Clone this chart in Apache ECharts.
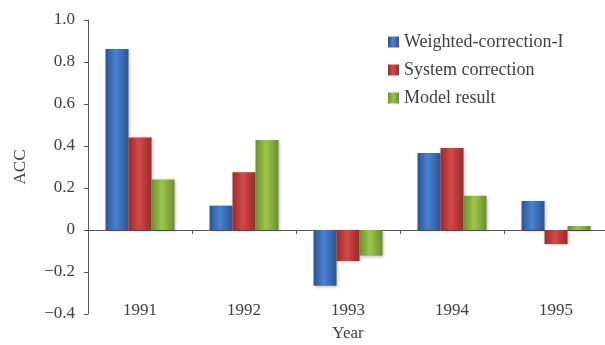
<!DOCTYPE html>
<html>
<head>
<meta charset="utf-8">
<script src="https://cdn.jsdelivr.net/npm/echarts@6/dist/echarts.min.js"></script>
<style>
  html, body { margin: 0; padding: 0; background: #fff; }
  #chart { width: 605px; height: 345px; }
</style>
</head>
<body>
<div id="chart"></div>
<script>
// data
const years = ['1991', '1992', '1993', '1994', '1995'];
const weightedCorrection = [0.862, 0.116, -0.265, 0.367, 0.138];
const systemCorrection = [0.441, 0.275, -0.148, 0.39, -0.067];
const modelResult = [0.241, 0.429, -0.122, 0.163, 0.019];

const font = 'Liberation Serif';
const textColor = '#404040';

// fake 3d look: darker edges, lighter middle
const barFill = (edge, mid) => new echarts.graphic.LinearGradient(0, 0, 1, 0, [
    { offset: 0, color: edge },
    { offset: 0.45, color: mid },
    { offset: 1, color: edge }
]);

const makeBar = (name, data, edge, mid) => ({
    name: name,
    type: 'bar',
    data: data,
    barWidth: 23,
    barGap: '0%',
    itemStyle: {
        color: barFill(edge, mid),
        shadowColor: 'rgba(0,0,0,0.25)',
        shadowBlur: 3,
        shadowOffsetX: 1,
        shadowOffsetY: 1
    }
});

const chart = echarts.init(document.getElementById('chart'));

chart.setOption({
    animation: false,
    textStyle: { fontFamily: font, color: textColor },
    grid: { left: 88, top: 20, width: 520, bottom: 31, outerBoundsMode: 'none' },
    legend: {
        orient: 'vertical',
        left: 383,
        top: 28,
        itemWidth: 11,
        itemHeight: 11,
        itemGap: 10,
        icon: 'rect',
        textStyle: { fontFamily: font, fontSize: 18, color: textColor },
        data: ['Weighted-correction-I', 'System correction', 'Model result']
    },
    xAxis: [
        {
            type: 'category',
            data: years,
            axisLine: { onZero: true, lineStyle: { color: '#555', width: 1 } },
            axisTick: { show: true, length: 4, lineStyle: { color: '#555' } },
            axisLabel: { show: false }
        },
        {
            type: 'category',
            data: years,
            position: 'bottom',
            offset: -14,
            axisLine: { show: false },
            axisTick: { show: false },
            axisLabel: { margin: 2, fontFamily: font, fontSize: 17, color: textColor },
            name: 'Year',
            nameLocation: 'middle',
            nameGap: 25,
            nameTextStyle: { fontFamily: font, fontSize: 17, color: textColor }
        }
    ],
    yAxis: {
        type: 'value',
        min: -0.4,
        max: 1.0,
        interval: 0.2,
        name: 'ACC',
        nameLocation: 'middle',
        nameGap: 59,
        nameTextStyle: { fontFamily: font, fontSize: 17, color: textColor },
        axisLine: { show: true, lineStyle: { color: '#555', width: 1 } },
        axisTick: { show: true, length: 4, lineStyle: { color: '#555' } },
        splitLine: { show: false },
        axisLabel: {
            margin: 13,
            fontFamily: font,
            fontSize: 17,
            color: textColor,
            formatter: (v) => {
                const r = Math.round(v * 10) / 10;
                if (r === 0) return '0';
                return (r < 0 ? '\u2212' : '') + Math.abs(r).toFixed(1);
            }
        }
    },
    series: [
        makeBar('Weighted-correction-I', weightedCorrection, '#2a5496', '#4a82d0'),
        makeBar('System correction', systemCorrection, '#9c2a2a', '#d24a48'),
        makeBar('Model result', modelResult, '#6b8f2c', '#9cc64c')
    ]
});
</script>
</body>
</html>
